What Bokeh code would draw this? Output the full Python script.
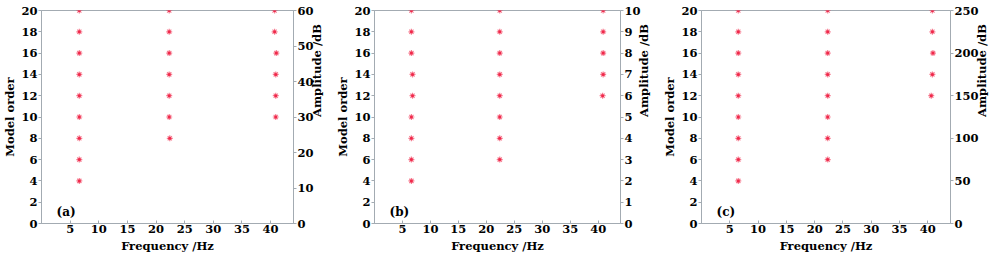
import math
from bokeh.plotting import figure
from bokeh.layouts import row
from bokeh.models import Range1d, LinearAxis, FixedTicker, Label
from bokeh.embed import file_html
from bokeh.resources import INLINE

# ---- data ----
panel_tags = ["(a)", "(b)", "(c)"]

a_freq = [6.6] * 9 + [22.3] * 6 + [22.4] + [40.7, 40.7, 41.0, 40.9, 40.9, 40.9]
a_order = [4, 6, 8, 10, 12, 14, 16, 18, 20] + [10, 12, 14, 16, 18, 20] + [8] + [20, 18, 16, 14, 12, 10]

b_freq = [6.6, 6.6, 6.6, 6.6, 6.8, 6.8, 6.6, 6.6, 6.6] + [22.4] * 8 + [40.9, 40.9, 40.9, 40.9, 40.8]
b_order = [4, 6, 8, 10, 12, 14, 16, 18, 20] + [6, 8, 10, 12, 14, 16, 18, 20] + [20, 18, 16, 14, 12]

c_freq = [6.5] * 9 + [22.3] * 8 + [40.8, 40.8, 40.9, 40.8, 40.6]
c_order = [4, 6, 8, 10, 12, 14, 16, 18, 20] + [6, 8, 10, 12, 14, 16, 18, 20] + [20, 18, 16, 14, 12]

order_ticks = [0, 2, 4, 6, 8, 10, 12, 14, 16, 18, 20]
freq_ticks = [5, 10, 15, 20, 25, 30, 35, 40]
amp_ticks_a = [0, 10, 20, 30, 40, 50, 60]
amp_ticks_b = [0, 1, 2, 3, 4, 5, 6, 7, 8, 9, 10]
amp_ticks_c = [0, 50, 100, 150, 200, 250]
amp_label = "Amplitude /dB"

FONT = "DejaVu Serif"
FS = "11.5px"
AXIS_COLOR = "#a3abb2"
MARK_COLOR = "#f0284a"


def style_axis(ax, orient):
    ax.axis_line_color = AXIS_COLOR
    ax.major_tick_line_color = AXIS_COLOR
    ax.minor_tick_line_color = None
    ax.major_label_text_font = FONT
    ax.major_label_text_font_size = FS
    ax.major_label_text_font_style = "bold"
    ax.major_label_text_color = "black"
    ax.axis_label_text_font = FONT
    ax.axis_label_text_font_size = FS
    ax.axis_label_text_font_style = "bold"
    ax.axis_label_text_color = "black"
    ax.major_label_standoff = 1
    ax.axis_label_standoff = 1
    if orient == "bottom":
        ax.major_tick_in = 3
        ax.major_tick_out = 0
        ax.axis_label_standoff = 3
    else:
        ax.major_tick_in = 0
        ax.major_tick_out = 3


def make_panel(freq, order, amp_ticks, tag, w):
    p = figure(width=w, height=255,
               x_range=Range1d(0, 44), y_range=Range1d(0, 20),
               output_backend="svg", toolbar_location=None,
               min_border_left=0, min_border_right=0,
               min_border_top=10, min_border_bottom=0)
    p.xgrid.visible = False
    p.ygrid.visible = False
    p.outline_line_color = AXIS_COLOR
    p.background_fill_color = "white"
    p.border_fill_color = "white"

    p.xaxis.ticker = FixedTicker(ticks=freq_ticks)
    p.xaxis.axis_label = "Frequency /Hz"
    p.yaxis.ticker = FixedTicker(ticks=order_ticks)
    p.yaxis.axis_label = "Model order"
    style_axis(p.xaxis[0], "bottom")
    style_axis(p.yaxis[0], "left")

    lo, hi = amp_ticks[0], amp_ticks[-1]
    p.extra_y_ranges = {"amp": Range1d(lo, hi)}
    ax = LinearAxis(y_range_name="amp", ticker=FixedTicker(ticks=amp_ticks))
    style_axis(ax, "right")
    p.add_layout(ax, "right")

    # label of the right axis, reading bottom-to-top
    mid = (lo + hi) / 2
    mid = int(mid) if float(mid).is_integer() else mid
    lab = LinearAxis(y_range_name="amp", ticker=FixedTicker(ticks=[mid]),
                     major_label_overrides={mid: amp_label})
    style_axis(lab, "right")
    lab.axis_line_color = None
    lab.major_tick_line_color = None
    lab.major_tick_in = 0
    lab.major_tick_out = 0
    lab.major_label_standoff = 0
    lab.major_label_orientation = math.pi / 2
    p.add_layout(lab, "right")

    p.scatter(freq, order, marker="asterisk", size=6,
              line_color=MARK_COLOR, line_width=1.2, line_alpha=0.6)
    p.scatter(freq, order, marker="circle", size=3,
              fill_color=MARK_COLOR, line_color=None)

    p.add_layout(Label(x=15, y=5, x_units="screen", y_units="screen",
                       text=tag, text_font=FONT, text_font_size="12px",
                       text_font_style="bold", text_color="black"))
    return p


p1 = make_panel(a_freq, a_order, amp_ticks_a, panel_tags[0], 333)
p2 = make_panel(b_freq, b_order, amp_ticks_b, panel_tags[1], 327)
p3 = make_panel(c_freq, c_order, amp_ticks_c, panel_tags[2], 338)

layout = row(p1, p2, p3)
open("out.html", "w").write(file_html(layout, INLINE))
